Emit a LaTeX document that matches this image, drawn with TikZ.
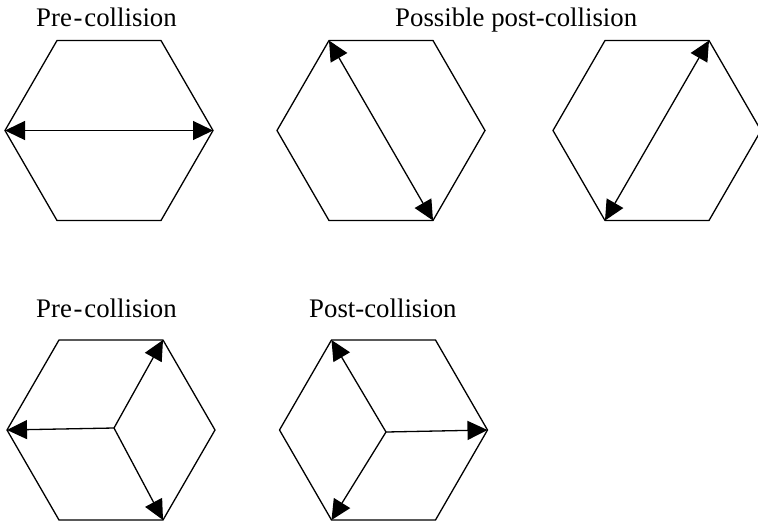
\documentclass[tikz,border=0pt]{standalone}
\usepackage{fontspec}
\setmainfont{Liberation Serif}
\usetikzlibrary{arrows.meta}
\newcommand\hexat[3]{%
  \path (#2,#3) coordinate (#1-c)
    ++(-104,0) coordinate (#1-l)
    ++(52,-90) coordinate (#1-tl)
    ++(104,0) coordinate (#1-tr)
    ++(52,90) coordinate (#1-r)
    ++(-52,90) coordinate (#1-br)
    ++(-104,0) coordinate (#1-bl);
  \draw[hexline] (#1-l) -- (#1-tl) -- (#1-tr) -- (#1-r) -- (#1-br) -- (#1-bl) -- cycle;}
\begin{document}
\begin{tikzpicture}[x=1pt,y=-1pt,
  hexline/.style={line width=1.3pt, line join=miter},
  vec/.style={line width=1.3pt, -{Triangle[length=20pt,width=19pt]}},
  dvec/.style={line width=1.3pt, {Triangle[length=20pt,width=19pt]}-{Triangle[length=20pt,width=19pt]}},
  lbl/.style={font=\fontsize{26.8}{30}\selectfont, anchor=base west, inner sep=0pt}]
\useasboundingbox (0,0) rectangle (758,523);
\clip (0,0) rectangle (758,523);
% labels
\node[lbl] (t1) at (36,26) {Pre{\kern1.8pt}-{\kern1.8pt}collision};
\node[lbl] (t2) at (395,26) {Possible post-collision};
\node[lbl] (t3) at (36,317) {Pre{\kern1.8pt}-{\kern1.8pt}collision};
\node[lbl] (t4) at (309,317) {Post-collision};
% hexagons
\hexat{h1}{109}{130.5}
\hexat{h2}{381}{130.5}
\hexat{h3}{657}{130.5}
\hexat{h4}{111}{430}
\hexat{h5}{383.5}{430}
% row 1 arrows
\draw[dvec] (h1-l) -- (h1-r);
\draw[dvec] (h2-tl) -- (h2-br);
\draw[dvec] (h3-tr) -- (h3-bl);
% row 2 arrows
\coordinate (c4) at (114,428);
\draw[vec] (c4) -- (h4-tr);
\draw[vec] (c4) -- (h4-l);
\draw[vec] (c4) -- (h4-br);
\coordinate (c5) at (386,432);
\draw[vec] (c5) -- (h5-tl);
\draw[vec] (c5) -- (h5-bl);
\draw[vec] (c5) -- (h5-r);
\end{tikzpicture}
\end{document}
